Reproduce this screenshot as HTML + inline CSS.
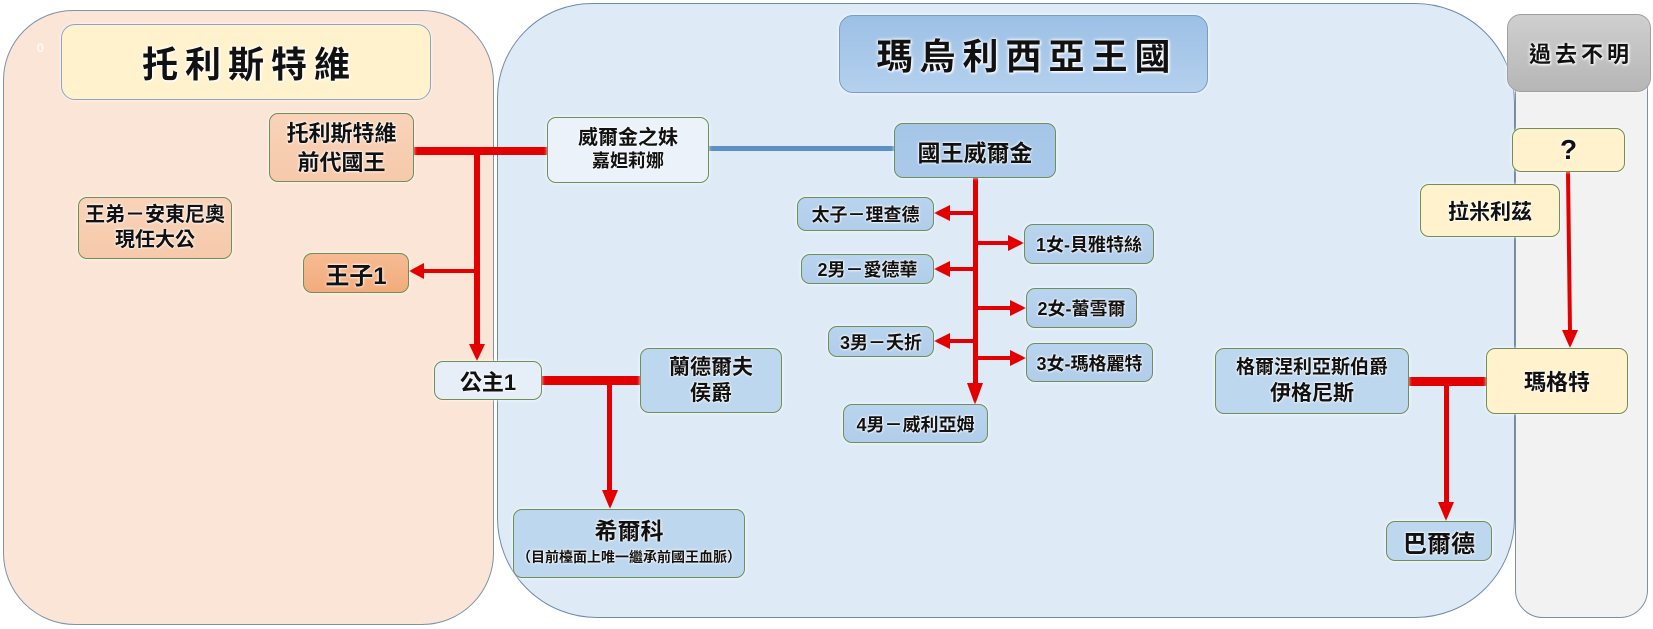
<!DOCTYPE html>
<html>
<head>
<meta charset="utf-8">
<style>
  html,body{margin:0;padding:0;background:#fff;}
  body{width:1653px;height:629px;position:relative;overflow:hidden;
       font-family:"Liberation Sans","Noto Sans CJK TC","Noto Sans CJK JP",sans-serif;}
  .p{position:absolute;box-sizing:border-box;}
  .b{position:absolute;box-sizing:border-box;border:1px solid #6f8f58;border-radius:9px;
     display:flex;flex-direction:column;align-items:center;justify-content:center;text-align:center;
     font-weight:bold;color:#111;white-space:nowrap;
     text-shadow:0 0 3px #fff,0 0 2px #fff,0 0 1px #fff;
     box-shadow:0 0 3px rgba(255,255,255,.9);z-index:3;}
  .blue{background:linear-gradient(#b9d4ee,#b1cdea);}
  .lblue{background:#bdd7ee;}
  .cream{background:#fff2cc;}
  .peach{background:linear-gradient(#f9d3b9,#f6c9aa);}
  .title{border-radius:14px;letter-spacing:7px;font-size:36px;
         text-shadow:0 0 4px #fff,0 0 3px #fff,1px 1px 2px #fff;}
  svg{position:absolute;left:0;top:0;z-index:2;}
</style>
</head>
<body>
<!-- panels -->
<div class="p" style="left:3px;top:10px;width:491px;height:615px;background:#fbe5d6;border:1px solid #7d93aa;border-radius:70px 72px 72px 72px;"></div>
<div class="p" style="left:497px;top:3px;width:1018px;height:615px;background:#deebf7;border:1px solid #6f8aa6;border-radius:95px 100px 100px 100px;"></div>
<div class="p" style="left:1515px;top:50px;width:133px;height:568px;background:#f2f2f2;border:1px solid #7f8fa0;border-radius:0 0 28px 28px;"></div>

<div class="p" style="left:37px;top:41px;color:#fff;font-size:12px;z-index:3;">0</div>

<svg width="1653" height="629" viewBox="0 0 1653 629">
  <g fill="#e30000" stroke="none">
    <!-- left: king to sister -->
    <rect x="412" y="147" width="137" height="8"/>
    <rect x="474" y="151" width="6" height="195"/>
    <polygon points="469,344 485,344 477,361"/>
    <!-- arrow to prince1 -->
    <rect x="422" y="269" width="55" height="4"/>
    <polygon points="424,263 424,279 409,271"/>
    <!-- princess - marquis -->
    <rect x="540" y="376" width="102" height="9"/>
    <rect x="607" y="380" width="5" height="112"/>
    <polygon points="602,490 618,490 610,509"/>
    <!-- king children -->
    <rect x="973" y="178" width="5" height="207"/>
    <polygon points="967,383 983,383 975,405"/>
    <rect x="948" y="211" width="27" height="4"/>
    <polygon points="950,205 950,221 934,213"/>
    <rect x="948" y="267" width="27" height="4"/>
    <polygon points="950,261 950,277 934,269"/>
    <rect x="948" y="339" width="27" height="4"/>
    <polygon points="950,333 950,349 934,341"/>
    <rect x="975" y="241" width="35" height="4"/>
    <polygon points="1008,235 1008,251 1024,243"/>
    <rect x="975" y="306" width="37" height="4"/>
    <polygon points="1010,300 1010,316 1026,308"/>
    <rect x="975" y="356" width="37" height="4"/>
    <polygon points="1010,350 1010,366 1026,358"/>
    <!-- right side -->
    <polygon points="1566,172 1570,172 1572,332 1568,332"/>
    <polygon points="1562,330 1578,330 1570,348"/>
    <rect x="1407" y="377" width="81" height="9"/>
    <rect x="1444" y="381" width="5" height="123"/>
    <polygon points="1438,502 1454,502 1446,521"/>
  </g>
  <rect x="709" y="146" width="185" height="5" fill="#5b8fc6"/>
</svg>

<!-- titles -->
<div class="b title" style="left:61px;top:24px;width:370px;height:76px;background:#fff2cc;border-color:#8aa6c4;padding-left:7px;">托利斯特維</div>
<div class="b title" style="left:839px;top:15px;width:369px;height:78px;background:linear-gradient(#9cc0e5,#b4d0ee);border-color:#7b9cc0;padding-left:7px;">瑪烏利西亞王國</div>
<div class="b title" style="left:1507px;top:14px;width:144px;height:78px;background:linear-gradient(#cfcfcf,#b6b6b6);border-color:#a0a0a0;font-size:22px;letter-spacing:4px;padding-left:4px;">過去不明</div>

<!-- left -->
<div class="b peach" style="left:269px;top:113px;width:145px;height:69px;font-size:22px;line-height:29px;">托利斯特維<br>前代國王</div>
<div class="b peach" style="left:78px;top:197px;width:154px;height:62px;font-size:20px;line-height:25px;">王弟－安東尼奧<br>現任大公</div>
<div class="b" style="left:303px;top:253px;width:106px;height:40px;font-size:24px;background:linear-gradient(#f6bb92,#f2ac7c);">王子1</div>
<div class="b" style="left:434px;top:361px;width:108px;height:39px;font-size:22px;background:#e6eef8;">公主1</div>

<!-- middle -->
<div class="b" style="left:547px;top:117px;width:162px;height:66px;background:#ebf2fa;line-height:23px;"><span style="font-size:20px;">威爾金之妹</span><span style="font-size:18px;">嘉妲莉娜</span></div>
<div class="b" style="left:894px;top:123px;width:162px;height:55px;font-size:23px;background:linear-gradient(#a6c6e8,#aac9ea);">國王威爾金</div>

<div class="b blue" style="left:797px;top:197px;width:137px;height:34px;font-size:18px;">太子－理查德</div>
<div class="b blue" style="left:1024px;top:224px;width:130px;height:40px;font-size:18px;">1女-貝雅特絲</div>
<div class="b blue" style="left:801px;top:254px;width:133px;height:30px;font-size:18px;">2男－愛德華</div>
<div class="b blue" style="left:1026px;top:288px;width:111px;height:40px;font-size:18px;">2女-蕾雪爾</div>
<div class="b blue" style="left:828px;top:326px;width:106px;height:31px;font-size:18px;">3男－夭折</div>
<div class="b blue" style="left:1026px;top:343px;width:127px;height:39px;font-size:18px;">3女-瑪格麗特</div>
<div class="b blue" style="left:843px;top:404px;width:145px;height:39px;font-size:18px;">4男－威利亞姆</div>

<div class="b lblue" style="left:640px;top:348px;width:142px;height:65px;font-size:21px;line-height:26px;">蘭德爾夫<br>侯爵</div>
<div class="b lblue" style="left:513px;top:509px;width:232px;height:69px;line-height:26px;"><span style="font-size:23px;">希爾科</span><span style="font-size:14px;">（目前檯面上唯一繼承前國王血脈）</span></div>

<!-- right -->
<div class="b cream" style="left:1512px;top:128px;width:113px;height:44px;font-size:28px;">?</div>
<div class="b cream" style="left:1420px;top:184px;width:140px;height:53px;font-size:21px;">拉米利茲</div>
<div class="b cream" style="left:1486px;top:348px;width:142px;height:66px;font-size:22px;">瑪格特</div>
<div class="b lblue" style="left:1215px;top:348px;width:194px;height:66px;line-height:26px;"><span style="font-size:19px;">格爾涅利亞斯伯爵</span><span style="font-size:21px;">伊格尼斯</span></div>
<div class="b lblue" style="left:1386px;top:521px;width:106px;height:40px;font-size:24px;">巴爾德</div>
</body>
</html>
